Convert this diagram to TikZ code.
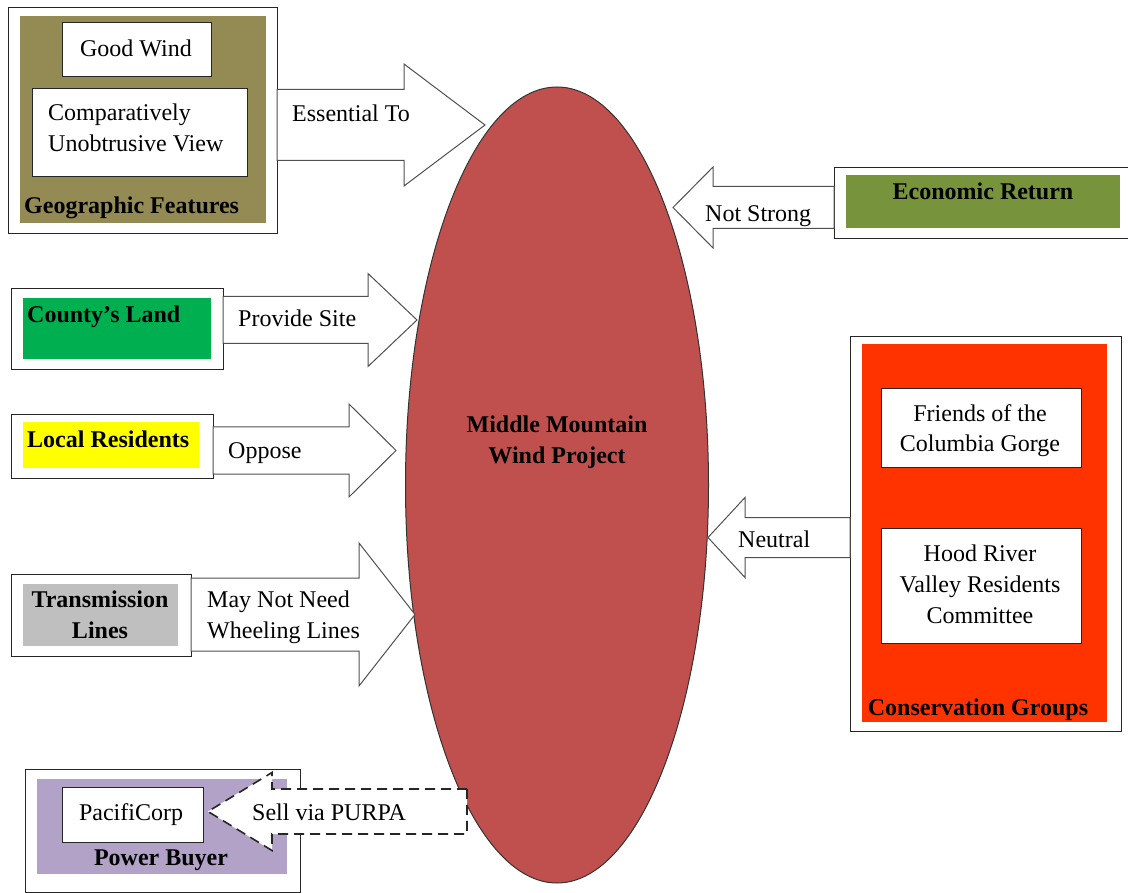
\documentclass[tikz,border=0pt]{standalone}
\usepackage{fontspec}
\setmainfont{Liberation Serif}
\usetikzlibrary{shapes.geometric}
\definecolor{geoOlive}{HTML}{948A54}
\definecolor{econGreen}{HTML}{77933C}
\definecolor{landGreen}{HTML}{00B050}
\definecolor{resYellow}{HTML}{FFFF00}
\definecolor{lineGray}{HTML}{BFBFBF}
\definecolor{buyerPurple}{HTML}{B2A2C7}
\definecolor{consRed}{HTML}{FF3300}
\definecolor{projRed}{HTML}{C0504D}
\definecolor{arrowEdge}{HTML}{505050}
\tikzset{
  frame/.style={draw=black!85, line width=1.3pt, fill=white},
  panel/.style={draw=none},
  inbox/.style={draw=black!85, line width=1.3pt, fill=white},
  txt/.style={inner sep=0pt, font=\fontsize{24}{31}\selectfont},
  btxt/.style={inner sep=0pt, font=\fontsize{24}{31}\selectfont\bfseries},
  blockarr/.style={draw=arrowEdge, line width=1pt, fill=white, line join=miter},
  dasharr/.style={draw=black!85, line width=1.6pt, fill=white, line join=miter, dash pattern=on 10pt off 6pt},
}
% #1 shaft start x, #2 head base x, #3 tip x, #4 centre y, #5 shaft half, #6 head half
\newcommand\blockarrowpath[6]{({#1},{#4-#5}) -- ({#2},{#4-#5}) -- ({#2},{#4-#6}) -- ({#3},{#4}) -- ({#2},{#4+#6}) -- ({#2},{#4+#5}) -- ({#1},{#4+#5}) -- cycle}
\begin{document}
\begin{tikzpicture}[x=1pt,y=-1pt]
\useasboundingbox[fill=white] (0,0) rectangle (1128,893);

% central ellipse
\node[ellipse, draw=black!80, line width=1pt, fill=projRed, minimum width=303pt, minimum height=796pt, inner sep=0pt] (proj) at (557,485) {};
\node[btxt, align=center, anchor=base] (projtxt) at (557,463) {Middle Mountain\\Wind Project};

% Geographic features
\node[frame, anchor=north west, minimum width=269pt, minimum height=226pt] (geo) at (8,7) {};
\node[panel, fill=geoOlive, anchor=north west, minimum width=246pt, minimum height=207pt] (geoin) at (20,16) {};
\node[inbox, anchor=north west, minimum width=149pt, minimum height=54pt] (goodwind) at (62,22) {};
\node[txt, anchor=base] (goodwindt) at (136,57) {Good Wind};
\node[inbox, anchor=north west, minimum width=215pt, minimum height=88pt] (view) at (32,88) {};
\node[txt, align=left, anchor=base west] (viewt) at (48,152) {Comparatively\\Unobtrusive View};
\node[btxt, anchor=base west] (geot) at (24,214) {Geographic Features};
\draw[blockarr] \blockarrowpath{277}{404}{485}{125}{35.5}{61};
\node[txt, anchor=base west] (esst) at (292,122) {Essential To};

% Economic return
\node[frame, anchor=north west, minimum width=300pt, minimum height=71pt] (econ) at (834,167) {};
\node[panel, fill=econGreen, anchor=north west, minimum width=274pt, minimum height=53pt] (econin) at (846,175) {};
\node[btxt, anchor=base] (econt) at (983,200) {Economic Return};
\draw[blockarr] \blockarrowpath{834}{713}{673}{207.5}{21}{40.5};
\node[txt, anchor=base west] (nst) at (705,222) {Not Strong};

% County's land
\node[frame, anchor=north west, minimum width=212pt, minimum height=81pt] (land) at (11,288) {};
\node[panel, fill=landGreen, anchor=north west, minimum width=188pt, minimum height=61pt] (landin) at (23,298) {};
\node[btxt, anchor=base west] (landt) at (27,323) {County’s Land};
\draw[blockarr] \blockarrowpath{223}{368}{417}{320}{23.5}{46.5};
\node[txt, anchor=base west] (provt) at (238,327) {Provide Site};

% Local residents
\node[frame, anchor=north west, minimum width=202pt, minimum height=64pt] (res) at (11,414) {};
\node[panel, fill=resYellow, anchor=north west, minimum width=176pt, minimum height=46pt] (resin) at (23,422) {};
\node[btxt, anchor=base west] (rest) at (27,447) {Local Residents};
\draw[blockarr] \blockarrowpath{213}{349}{396}{450.5}{23.5}{46.5};
\node[txt, anchor=base west] (oppt) at (228,458) {Oppose};

% Transmission lines
\node[frame, anchor=north west, minimum width=180pt, minimum height=82pt] (trans) at (11,574) {};
\node[panel, fill=lineGray, anchor=north west, minimum width=155pt, minimum height=62pt] (transin) at (23,584) {};
\node[btxt, align=center, anchor=base] (transt) at (100,638) {Transmission\\Lines};
\draw[blockarr] \blockarrowpath{191}{359}{415}{614.5}{36.5}{71.5};
\node[txt, align=left, anchor=base west] (wheelt) at (207,638) {May Not Need\\Wheeling Lines};

% Power buyer
\node[frame, anchor=north west, minimum width=275pt, minimum height=123pt] (buyer) at (25,769) {};
\node[panel, fill=buyerPurple, anchor=north west, minimum width=250pt, minimum height=95pt] (buyerin) at (37,779) {};
\node[inbox, anchor=north west, minimum width=141pt, minimum height=55pt] (pacifi) at (62,787) {};
\node[txt, anchor=base] (pacifit) at (131,820) {PacifiCorp};
\node[btxt, anchor=base] (buyert) at (161,865) {Power Buyer};
\draw[dasharr] \blockarrowpath{467}{272}{208}{811.5}{22.5}{39};
\node[txt, anchor=base west] (sellt) at (252,820) {Sell via PURPA};

% Conservation groups
\node[frame, anchor=north west, minimum width=271pt, minimum height=395pt] (cons) at (850,336) {};
\node[panel, fill=consRed, anchor=north west, minimum width=245pt, minimum height=378pt] (consin) at (862,344) {};
\node[inbox, anchor=north west, minimum width=200pt, minimum height=79pt] (friends) at (881,388) {};
\node[txt, align=center, anchor=base] (friendst) at (980,452) {Friends of the\\Columbia Gorge};
\node[inbox, anchor=north west, minimum width=200pt, minimum height=115pt] (hood) at (881,528) {};
\node[txt, align=center, anchor=base] (hoodt) at (980,623) {Hood River\\Valley Residents\\Committee};
\node[btxt, anchor=base] (const) at (978,715) {Conservation Groups};
\draw[blockarr] \blockarrowpath{850}{745}{708}{537.5}{20}{40};
\node[txt, anchor=base west] (neutt) at (738,547) {Neutral};
\end{tikzpicture}
\end{document}
